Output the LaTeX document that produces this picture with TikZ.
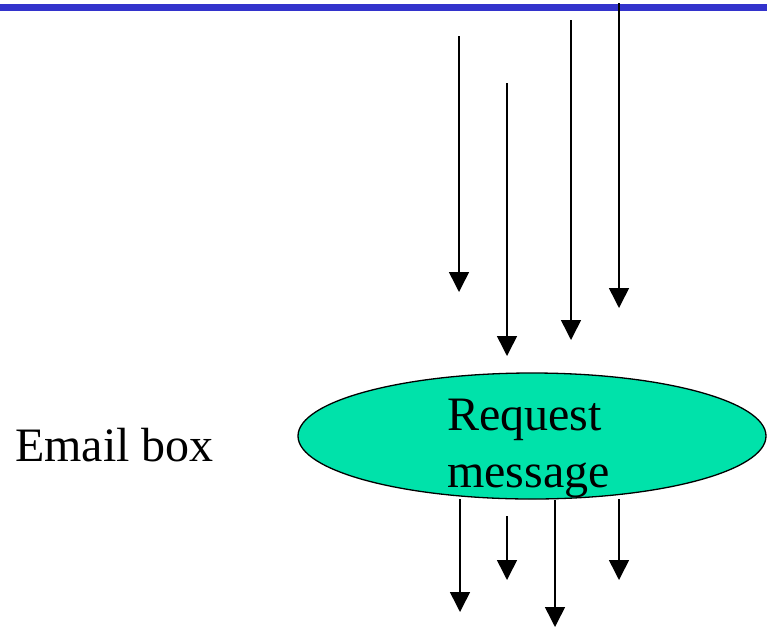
\documentclass[tikz,border=0pt]{standalone}
\usepackage{fontspec}
\setmainfont{Liberation Serif}
\usetikzlibrary{arrows.meta,shapes.geometric}
\definecolor{barblue}{RGB}{51,51,204}
\definecolor{msggreen}{RGB}{0,226,170}
\tikzset{
  flow/.style={line width=1.5pt,-{Triangle[width=20pt,length=20pt]}},
  lbl/.style={font=\fontsize{48pt}{57pt}\selectfont,inner sep=0pt,anchor=base west}
}
\begin{document}
\begin{tikzpicture}[x=1pt,y=-1pt]
\useasboundingbox (0,0) rectangle (767,627);
\fill[barblue] (0,4) rectangle (767,11);
% ellipse
\node[ellipse,draw,line width=1.3pt,fill=msggreen,minimum width=468pt,minimum height=126pt,inner sep=0pt] (msg) at (532,436) {};
\node[lbl] (req) at (447,430) {Request};
\node[lbl] (mess) at (447,487) {message};
\node[lbl] (email) at (15,461) {Email box};
% incoming arrows
\coordinate (i1s) at (459,36);  \coordinate (i1e) at (459,292);
\coordinate (i2s) at (507,83);  \coordinate (i2e) at (507,356);
\coordinate (i3s) at (571,20);  \coordinate (i3e) at (571,340);
\coordinate (i4s) at (619,3);   \coordinate (i4e) at (619,308);
\draw[flow] (i1s) -- (i1e);
\draw[flow] (i2s) -- (i2e);
\draw[flow] (i3s) -- (i3e);
\draw[flow] (i4s) -- (i4e);
% outgoing arrows
\coordinate (o1s) at (460,499); \coordinate (o1e) at (460,612);
\coordinate (o2s) at (507,516); \coordinate (o2e) at (507,580);
\coordinate (o3s) at (555,500); \coordinate (o3e) at (555,627);
\coordinate (o4s) at (619,499); \coordinate (o4e) at (619,580);
\draw[flow] (o1s) -- (o1e);
\draw[flow] (o2s) -- (o2e);
\draw[flow] (o3s) -- (o3e);
\draw[flow] (o4s) -- (o4e);
\end{tikzpicture}
\end{document}
